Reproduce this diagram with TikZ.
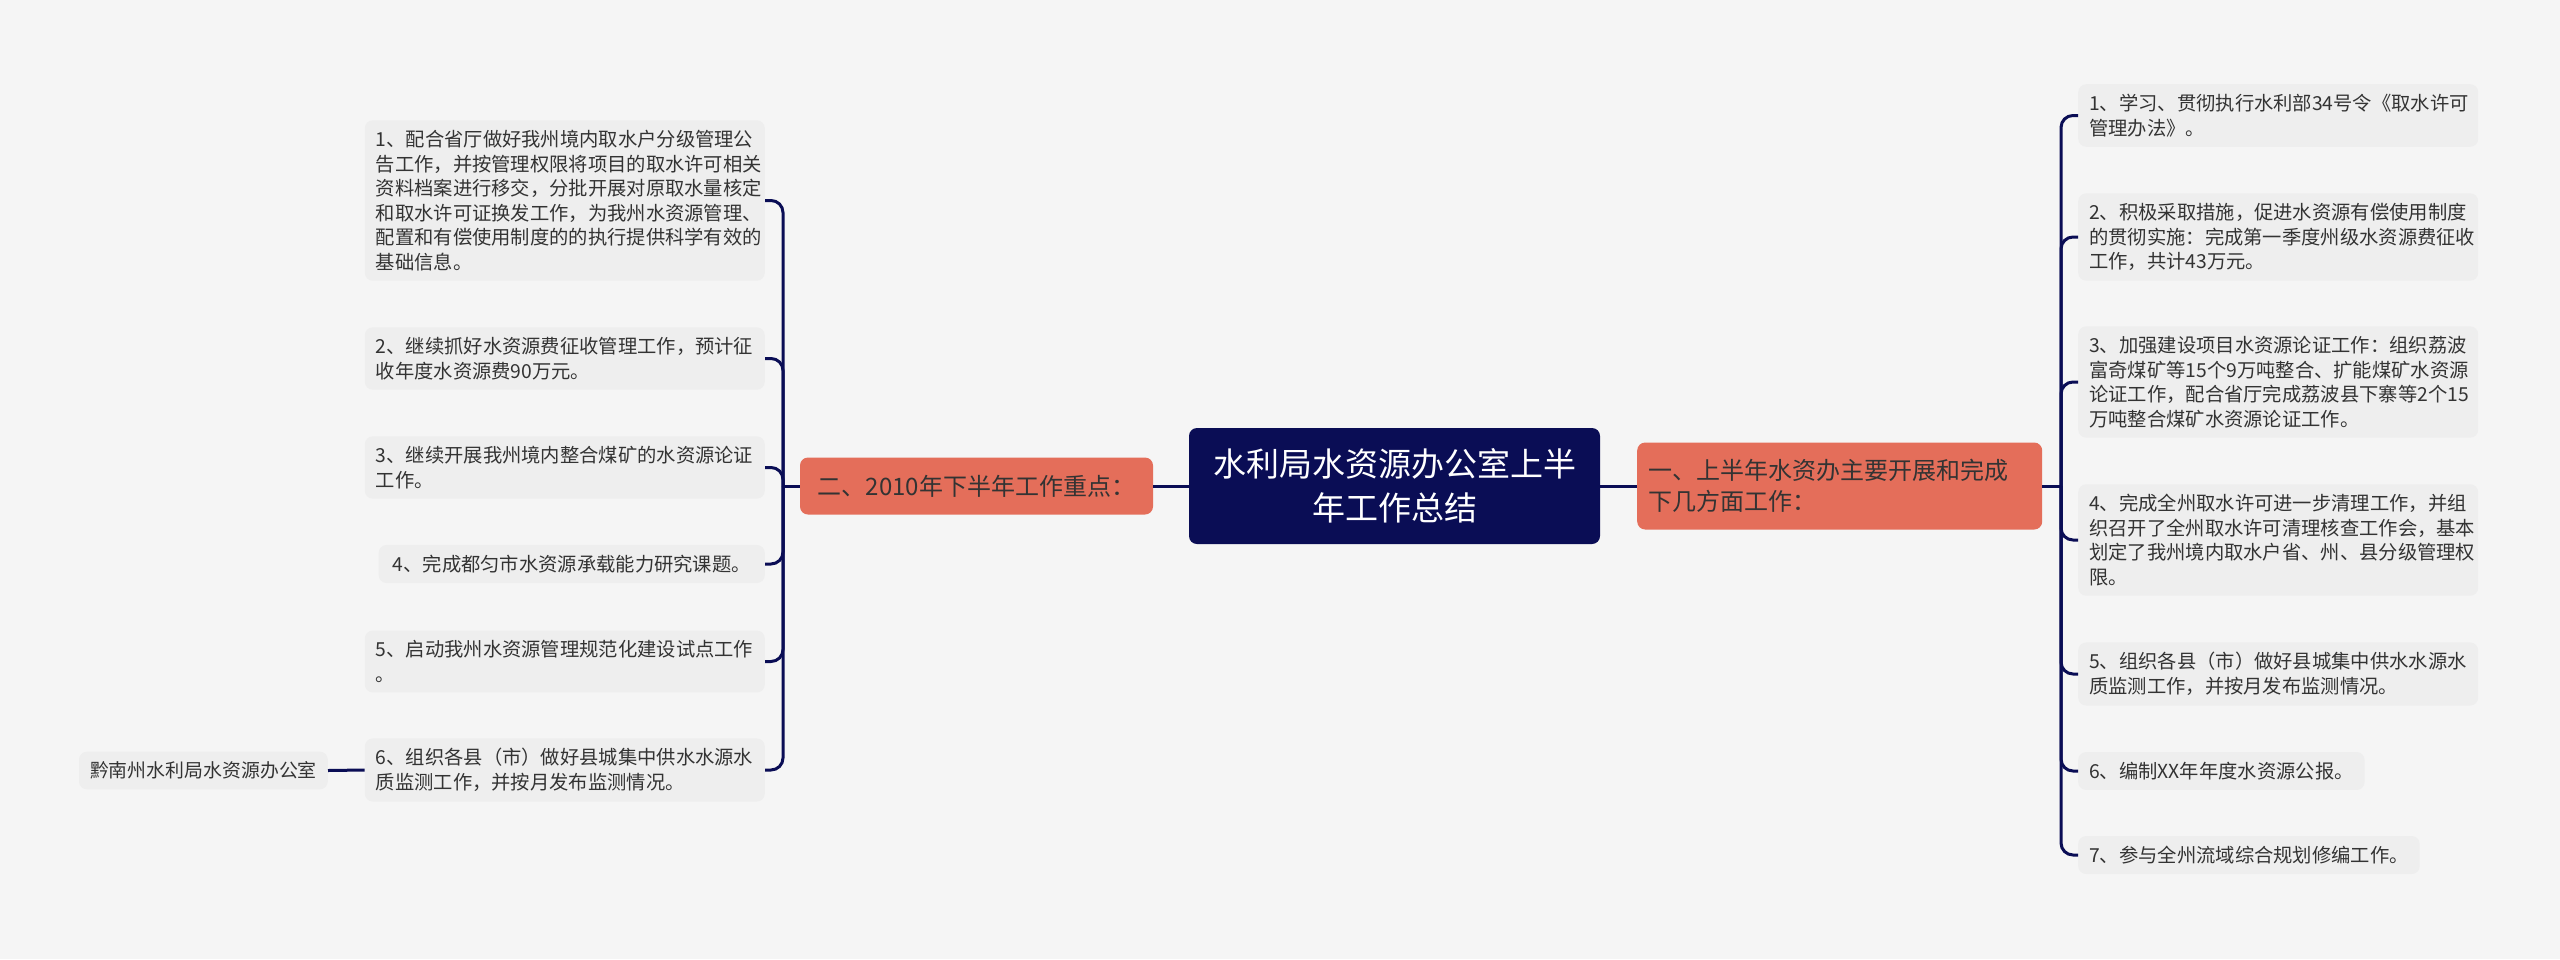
\documentclass[tikz,border=0pt]{standalone}
\usepackage{fontspec}
\newfontfamily\cjk{Noto Sans CJK SC}
\definecolor{bg}{HTML}{F5F5F5}
\definecolor{leaffill}{HTML}{EEEEEE}
\definecolor{navy}{RGB}{10,13,85}
\definecolor{salmon}{RGB}{228,110,90}
\definecolor{txt}{HTML}{333333}
\tikzset{
  leaf/.style={fill=leaffill, rounded corners=8pt, inner xsep=11pt, inner ysep=10pt,
    text=txt, align=left, font={\cjk\fontsize{19.3}{24.5}\selectfont}},
  wide/.style={text width=378pt},
  centerbox/.style={fill=navy, rounded corners=8pt, text=white, align=center,
    minimum width=411pt, minimum height=116pt, inner sep=0pt,
    font={\cjk\fontsize{33}{44}\selectfont}},
  branch/.style={fill=salmon, rounded corners=8pt, text=txt,
    font={\cjk\fontsize{24}{31}\selectfont}},
  conn/.style={draw=navy, line width=3pt, rounded corners=12pt}
}
\begin{document}
\begin{tikzpicture}[x=1pt,y=-1pt]
\fill[bg] (0,0) rectangle (2560,959);
\useasboundingbox (0,0) rectangle (2560,959);

% central and branches
\node[centerbox] (C) at (1394.5,486) {水利局水资源办公室上半\\年工作总结};
\node[branch, minimum width=353pt, minimum height=57pt, inner sep=0pt] (LB) at (976.5,486) {二、2010年下半年工作重点：};
\node[branch, anchor=west, text width=383pt, align=left, minimum height=87pt, inner xsep=11pt, inner ysep=0pt] (RB) at (1637,486) {一、上半年水资办主要开展和完成\\下几方面工作：};

\coordinate (jL) at (783,486);
\coordinate (jR) at (2061,486);

% left leaves
\node[leaf, wide, anchor=east] (L1) at (765,200.5) {1、配合省厅做好我州境内取水户分级管理公\\告工作，并按管理权限将项目的取水许可相关\\资料档案进行移交，分批开展对原取水量核定\\和取水许可证换发工作，为我州水资源管理、\\配置和有偿使用制度的的执行提供科学有效的\\基础信息。};
\node[leaf, wide, anchor=east] (L2) at (765,358.5) {2、继续抓好水资源费征收管理工作，预计征\\收年度水资源费90万元。};
\node[leaf, wide, anchor=east] (L3) at (765,467.5) {3、继续开展我州境内整合煤矿的水资源论证\\工作。};
\node[leaf, anchor=east, inner xsep=14pt] (L4) at (765,564) {4、完成都匀市水资源承载能力研究课题。};
\node[leaf, wide, anchor=east] (L5) at (765,661.5) {5、启动我州水资源管理规范化建设试点工作\\。};
\node[leaf, wide, anchor=east] (L6) at (765,770) {6、组织各县（市）做好县城集中供水水源水\\质监测工作，并按月发布监测情况。};
\node[leaf, anchor=east, font={\cjk\fontsize{18.9}{24.5}\selectfont}] (Q) at (328,770.5) {黔南州水利局水资源办公室};

% right leaves
\node[leaf, wide, anchor=west] (R1) at (2078,115.5) {1、学习、贯彻执行水利部34号令《取水许可\\管理办法》。};
\node[leaf, wide, anchor=west] (R2) at (2078,237) {2、积极采取措施，促进水资源有偿使用制度\\的贯彻实施：完成第一季度州级水资源费征收\\工作，共计43万元。};
\node[leaf, wide, anchor=west] (R3) at (2078,382) {3、加强建设项目水资源论证工作：组织荔波\\富奇煤矿等15个9万吨整合、扩能煤矿水资源\\论证工作，配合省厅完成荔波县下寨等2个15\\万吨整合煤矿水资源论证工作。};
\node[leaf, wide, anchor=west] (R4) at (2078,540) {4、完成全州取水许可进一步清理工作，并组\\织召开了全州取水许可清理核查工作会，基本\\划定了我州境内取水户省、州、县分级管理权\\限。};
\node[leaf, wide, anchor=west] (R5) at (2078,674) {5、组织各县（市）做好县城集中供水水源水\\质监测工作，并按月发布监测情况。};
\node[leaf, anchor=west] (R6) at (2078,771) {6、编制XX年年度水资源公报。};
\node[leaf, anchor=west] (R7) at (2078,855) {7、参与全州流域综合规划修编工作。};

% connectors
\draw[conn] (LB.east) -- (C.west);
\draw[conn] (C.east) -- (RB.west);
\draw[conn] (LB.west) -- (jL);
\draw[conn] (RB.east) -- (jR);
\foreach \n in {L1,L2,L3,L4,L5,L6} \draw[conn] (jL) |- (\n.east);
\foreach \n in {R1,R2,R3,R4,R5,R6,R7} \draw[conn] (jR) |- (\n.west);
\draw[conn] (L6.west) -- (Q.east);
\end{tikzpicture}
\end{document}
